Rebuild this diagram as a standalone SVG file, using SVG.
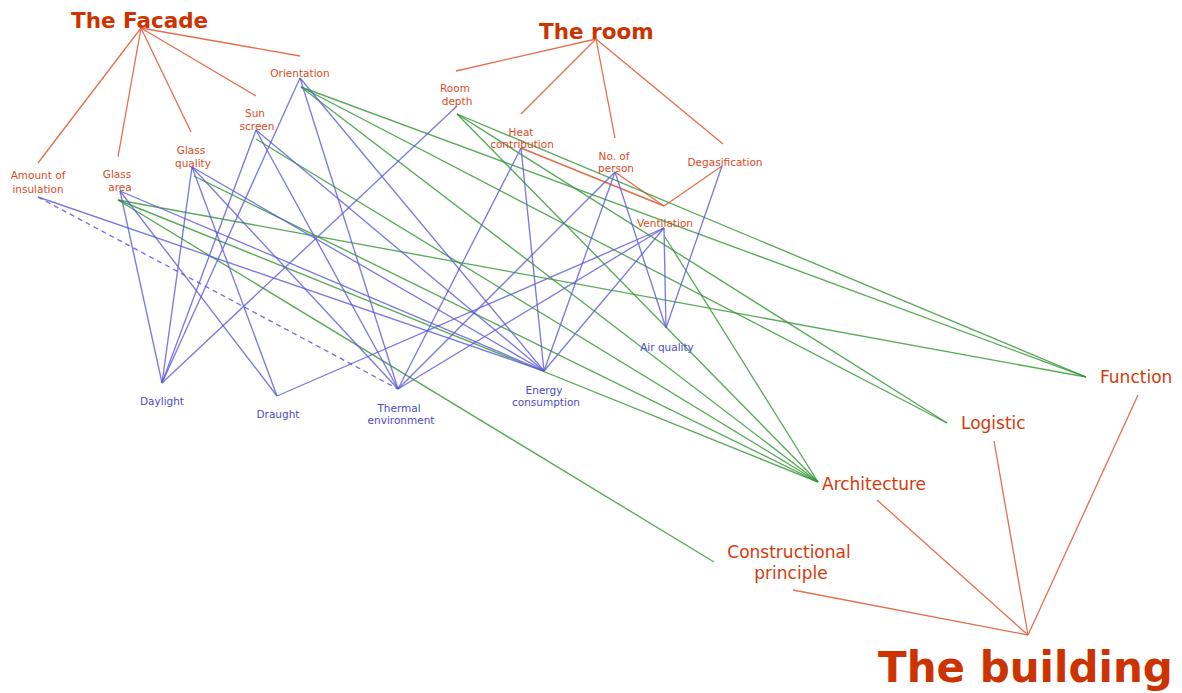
<svg xmlns="http://www.w3.org/2000/svg" width="1182" height="693" viewBox="0 0 1182 693">
<style>
  text { font-family: "DejaVu Sans", Verdana, sans-serif; }
  .title { font-weight: bold; fill: #cc3300; }
  .t1 { font-size: 21.5px; }
  .t2 { font-size: 42px; }
  .big { font-size: 17px; fill: #d33a0c; }
  .par { font-size: 10.5px; fill: #dd4b1e; text-anchor: middle; }
  .perf { font-size: 10.5px; fill: #4b4bd0; text-anchor: middle; }
  .r { stroke: #e2704f; stroke-width: 1.3; fill: none; }
  .b { stroke: #5a5ad8; stroke-width: 1.35; stroke-opacity: 0.8; fill: none; }
  .bd { stroke: #5a5ad8; stroke-width: 1.35; stroke-opacity: 0.85; stroke-dasharray: 5 4; fill: none; }
  .g { stroke: #2f952f; stroke-width: 1.35; stroke-opacity: 0.8; fill: none; }
</style>
<rect width="1182" height="693" fill="#ffffff"/>
<g id="connectors">
  <!-- hierarchy (orange) -->
  <line class="r" x1="141" y1="28" x2="300" y2="56"/>
  <line class="r" x1="141" y1="28" x2="256" y2="96"/>
  <line class="r" x1="141" y1="28" x2="191" y2="132"/>
  <line class="r" x1="141" y1="28" x2="118" y2="157"/>
  <line class="r" x1="141" y1="28" x2="38" y2="163"/>
  <line class="r" x1="596" y1="39" x2="456" y2="71"/>
  <line class="r" x1="596" y1="39" x2="521" y2="114"/>
  <line class="r" x1="596" y1="39" x2="615" y2="138"/>
  <line class="r" x1="596" y1="39" x2="723" y2="144"/>
  <line class="r" x1="521" y1="148" x2="664" y2="206" style="stroke-width:1.7"/>
  <line class="r" x1="615" y1="172" x2="664" y2="206"/>
  <line class="r" x1="722" y1="166" x2="664" y2="206"/>
  <line class="r" x1="1028" y1="635" x2="793" y2="590"/>
  <line class="r" x1="1028" y1="635" x2="877" y2="500"/>
  <line class="r" x1="1028" y1="635" x2="994" y2="441"/>
  <line class="r" x1="1028" y1="635" x2="1138" y2="395"/>
  <!-- green: to building aspects -->
  <line class="g" x1="301" y1="87" x2="1086" y2="377"/>
  <line class="g" x1="457" y1="114" x2="1086" y2="377"/>
  <line class="g" x1="118" y1="200" x2="1086" y2="377"/>
  <line class="g" x1="301" y1="87" x2="947" y2="423"/>
  <line class="g" x1="457" y1="114" x2="947" y2="423"/>
  <line class="g" x1="301" y1="87" x2="818" y2="482"/>
  <line class="g" x1="457" y1="114" x2="818" y2="482"/>
  <line class="g" x1="118" y1="200" x2="818" y2="482"/>
  <line class="g" x1="194" y1="176" x2="818" y2="482"/>
  <line class="g" x1="256" y1="139" x2="818" y2="482"/>
  <line class="g" x1="665" y1="237" x2="818" y2="482"/>
  <line class="g" x1="118" y1="200" x2="714" y2="562"/>
  <!-- blue: Daylight -->
  <line class="b" x1="120" y1="191" x2="162" y2="383"/>
  <line class="b" x1="192" y1="167" x2="162" y2="383"/>
  <line class="b" x1="256" y1="130" x2="162" y2="383"/>
  <line class="b" x1="300" y1="78" x2="162" y2="383"/>
  <line class="b" x1="457" y1="106" x2="162" y2="383"/>
  <!-- Draught -->
  <line class="b" x1="120" y1="191" x2="277" y2="396"/>
  <line class="b" x1="192" y1="167" x2="277" y2="396"/>
  <line class="b" x1="664" y1="228" x2="277" y2="396"/>
  <!-- Thermal environment -->
  <line class="bd" x1="38" y1="197" x2="398" y2="389"/>
  <line class="b" x1="192" y1="167" x2="398" y2="389"/>
  <line class="b" x1="256" y1="130" x2="398" y2="389"/>
  <line class="b" x1="300" y1="78" x2="398" y2="389"/>
  <line class="b" x1="521" y1="148" x2="398" y2="389"/>
  <line class="b" x1="615" y1="172" x2="398" y2="389"/>
  <line class="b" x1="664" y1="228" x2="398" y2="389"/>
  <!-- Energy consumption -->
  <line class="b" x1="38" y1="197" x2="544" y2="371"/>
  <line class="b" x1="120" y1="191" x2="544" y2="371"/>
  <line class="b" x1="192" y1="167" x2="544" y2="371"/>
  <line class="b" x1="256" y1="130" x2="544" y2="371"/>
  <line class="b" x1="300" y1="78" x2="544" y2="371"/>
  <line class="b" x1="521" y1="148" x2="544" y2="371"/>
  <line class="b" x1="615" y1="172" x2="544" y2="371"/>
  <line class="b" x1="664" y1="228" x2="544" y2="371"/>
  <!-- Air quality -->
  <line class="b" x1="615" y1="172" x2="666" y2="328"/>
  <line class="b" x1="664" y1="228" x2="666" y2="328"/>
  <line class="b" x1="722" y1="166" x2="666" y2="328"/>
</g>
<g id="facade"><text class="title t1" x="71" y="28">The Facade</text></g>
<g id="room"><text class="title t1" x="539" y="39">The room</text></g>
<g id="building"><text class="title t2" x="878" y="682">The building</text></g>
<g id="orientation"><text class="par" x="300" y="77">Orientation</text></g>
<g id="sun-screen"><text class="par" x="255" y="117">Sun</text><text class="par" x="257" y="130">screen</text></g>
<g id="glass-quality"><text class="par" x="191" y="154">Glass</text><text class="par" x="193" y="167">quality</text></g>
<g id="glass-area"><text class="par" x="117" y="178">Glass</text><text class="par" x="120" y="191">area</text></g>
<g id="amount-of-insulation"><text class="par" x="38" y="179">Amount of</text><text class="par" x="38" y="193">insulation</text></g>
<g id="room-depth"><text class="par" x="455" y="92">Room</text><text class="par" x="457" y="105">depth</text></g>
<g id="heat-contribution"><text class="par" x="521" y="136">Heat</text><text class="par" x="522" y="148">contribution</text></g>
<g id="no-of-person"><text class="par" x="614" y="160">No. of</text><text class="par" x="616" y="172">person</text></g>
<g id="degasification"><text class="par" x="725" y="166">Degasification</text></g>
<g id="ventilation"><text class="par" x="665" y="227">Ventilation</text></g>
<g id="air-quality"><text class="perf" x="667" y="351">Air quality</text></g>
<g id="energy-consumption"><text class="perf" x="544" y="394">Energy</text><text class="perf" x="546" y="406">consumption</text></g>
<g id="thermal-environment"><text class="perf" x="399" y="412">Thermal</text><text class="perf" x="401" y="424">environment</text></g>
<g id="daylight"><text class="perf" x="162" y="405">Daylight</text></g>
<g id="draught"><text class="perf" x="278" y="418">Draught</text></g>
<g id="function"><text class="big" x="1100" y="383">Function</text></g>
<g id="logistic"><text class="big" x="961" y="429">Logistic</text></g>
<g id="architecture"><text class="big" x="822" y="490">Architecture</text></g>
<g id="constructional-principle"><text class="big" x="789" y="558" text-anchor="middle">Constructional</text><text class="big" x="791" y="579" text-anchor="middle">principle</text></g>
</svg>
